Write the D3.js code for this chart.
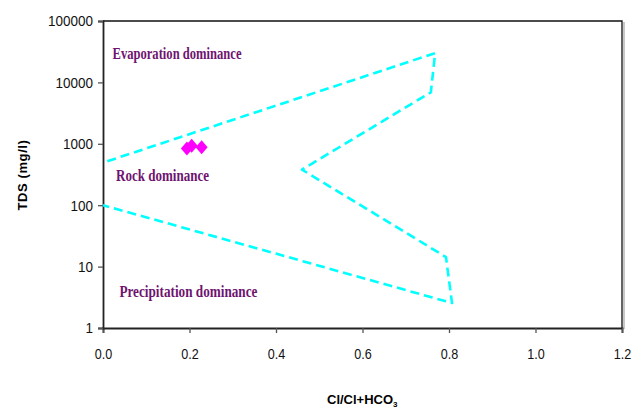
<!DOCTYPE html>
<html><head><meta charset="utf-8">
<script src="https://cdn.jsdelivr.net/npm/d3@7"></script>
<style>body{margin:0;background:#fff}svg{display:block}</style>
</head><body>
<svg id="c" width="632" height="410"></svg>
<script>
// Gibbs diagram data
const boundaryX = [0.01, 0.768, 0.758, 0.46, 0.793, 0.807, 0.0];
const boundaryY = [520, 30000, 6900, 380, 14.3, 2.55, 100];
const sampleX = [0.194, 0.205, 0.228];
const sampleY = [838, 931, 877];
const xTicks = [0, 0.2, 0.4, 0.6, 0.8, 1.0, 1.2];
const yTicks = [1, 10, 100, 1000, 10000, 100000];
const zoneLabels = ["Evaporation dominance", "Rock dominance", "Precipitation dominance"];
const zoneX = [0.022, 0.03, 0.038];
const zoneY = [24000, 250, 3.2];
const zoneW = [129, 93, 138];

const svg = d3.select("#c");
const L = 103, R = 622, T = 21, B = 328;
const x = d3.scaleLinear().domain([0, 1.2]).range([L, R]);
const y = d3.scaleLog().domain([1, 100000]).range([B, T]);

// frame (top & right)
svg.append("rect").attr("x", R + 1).attr("y", T + 1).attr("width", 2).attr("height", B - T).attr("fill", "#c8c8c8");
svg.append("path").attr("d", `M${L},${T}H${R}V${B}`).attr("fill", "none").attr("stroke", "#111").attr("stroke-width", 1.3);

// axes
const xAxis = d3.axisBottom(x).tickValues(xTicks).tickFormat(d3.format(".1f")).tickSizeOuter(0).tickSize(5).tickPadding(15);
const gx = svg.append("g").attr("transform", `translate(0,${B})`).call(xAxis);
const yAxis = d3.axisLeft(y).tickValues(yTicks).tickFormat(d3.format("d")).tickSizeOuter(0).tickSize(5).tickPadding(5);
const gy = svg.append("g").attr("transform", `translate(${L},0)`).call(yAxis);
[gx, gy].forEach(g => {
  g.select(".domain").attr("stroke", "#222").attr("stroke-width", 1.8);
  g.selectAll(".tick line").attr("stroke", "#555").attr("stroke-width", 1.3);
  g.selectAll(".tick text").attr("font-family", "Liberation Sans, Arial, sans-serif").attr("font-size", 15).attr("fill", "#111");
});
gx.selectAll(".tick text").attr("textLength", 17.5).attr("lengthAdjust", "spacingAndGlyphs");
gy.selectAll(".tick text").each(function(d){
  const n = String(d).length;
  d3.select(this).attr("textLength", n * 7.5).attr("lengthAdjust", "spacingAndGlyphs");
});

// boundary line
const line = d3.line().x(d => x(d[0])).y(d => y(d[1]));
svg.append("path")
  .attr("d", line(boundaryX.map((v, i) => [v, boundaryY[i]])))
  .attr("fill", "none").attr("stroke", "#00ffff").attr("stroke-width", 2.6)
  .attr("stroke-dasharray", "9,5").attr("stroke-linejoin", "round");

// samples
svg.selectAll(".pt").data(sampleX.map((v, i) => [v, sampleY[i]])).join("path")
  .attr("transform", d => `translate(${x(d[0])},${y(d[1])})`)
  .attr("d", "M0,-7L6,0L0,7L-6,0Z").attr("fill", "#ff00ff");

// zone labels
svg.selectAll(".zl").data(zoneLabels).join("text")
  .attr("x", (d, i) => x(zoneX[i])).attr("y", (d, i) => y(zoneY[i]))
  .attr("font-family", "Liberation Serif, Times New Roman, serif").attr("font-weight", "bold")
  .attr("font-size", 16).attr("fill", "#6e1470")
  .attr("textLength", (d, i) => zoneW[i]).attr("lengthAdjust", "spacingAndGlyphs")
  .text(d => d);

// axis titles
svg.append("text").attr("transform", "translate(27,175) rotate(-90)").attr("text-anchor", "middle")
  .attr("font-family", "Liberation Sans, Arial, sans-serif").attr("font-weight", "bold").attr("font-size", 13)
  .attr("letter-spacing", 0.6).text("TDS (mg/l)");
const xt = svg.append("text").attr("x", 327).attr("y", 404)
  .attr("font-family", "Liberation Sans, Arial, sans-serif").attr("font-weight", "bold").attr("font-size", 13);
xt.append("tspan").text("Cl/Cl+HCO");
xt.append("tspan").attr("font-size", 8).attr("dy", 2.5).text("3");
</script>
</body></html>
